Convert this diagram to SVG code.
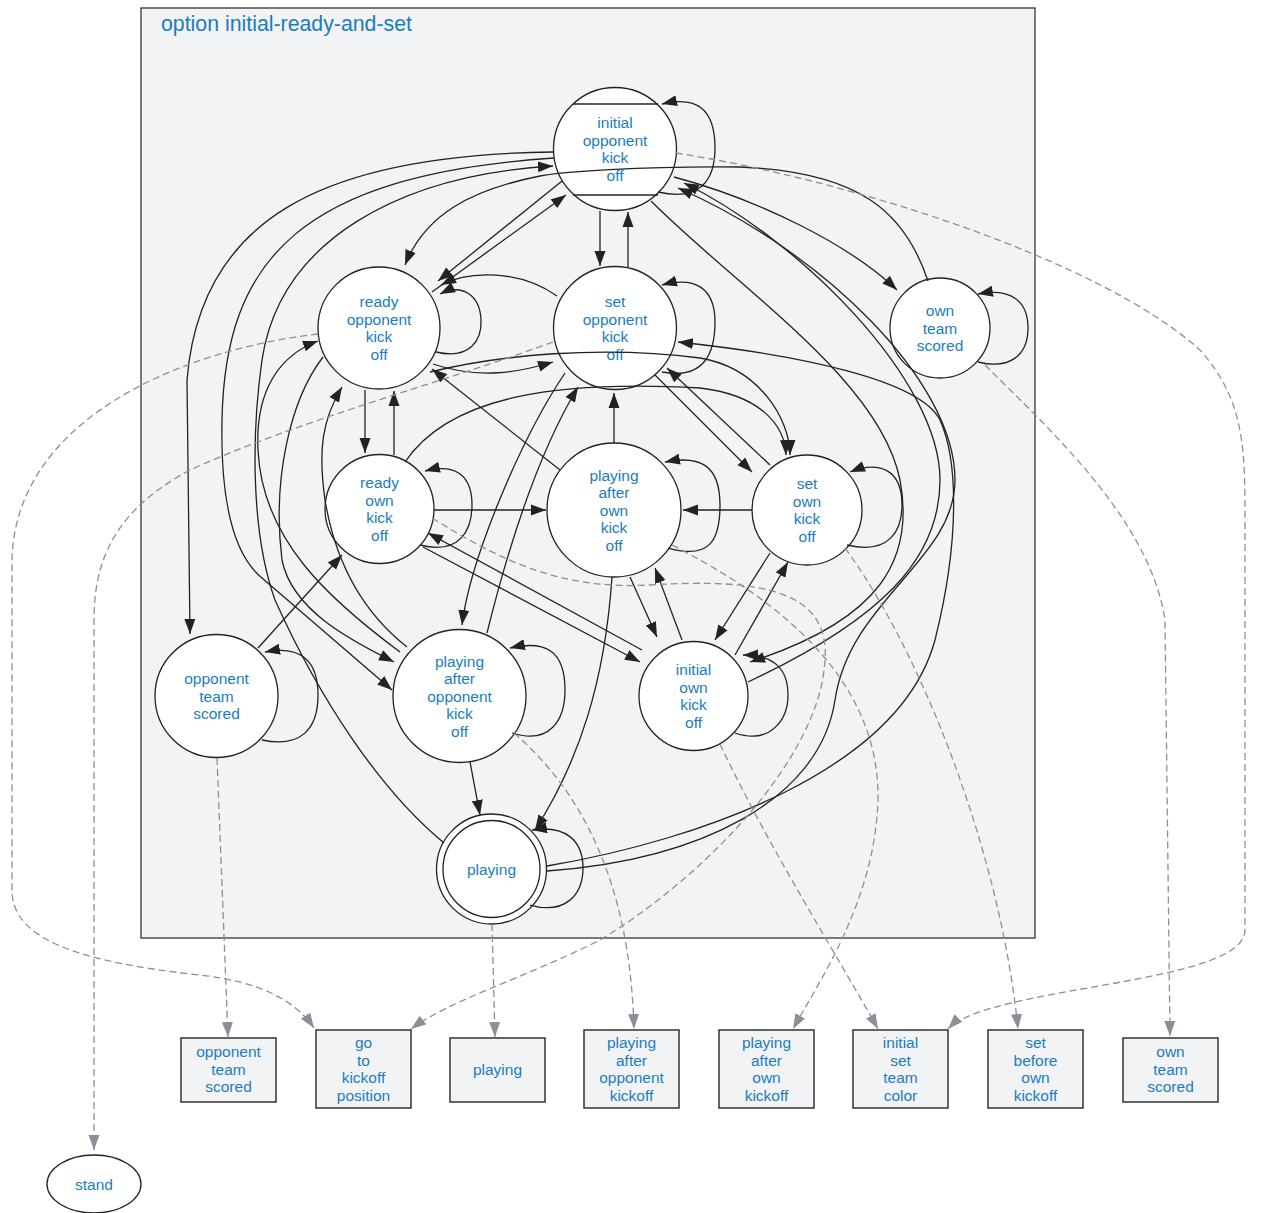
<svg xmlns="http://www.w3.org/2000/svg" width="1261" height="1213" viewBox="0 0 1261 1213">
<style>
  .lbl{font-family:"Liberation Sans",Arial,sans-serif;font-size:15.5px;fill:#1a7dbf;text-anchor:middle}
  .ttl{font-family:"Liberation Sans",Arial,sans-serif;font-size:21.3px;fill:#1a7dbf}
  .st{fill:#fff;stroke:#222;stroke-width:1.3}
  .act{fill:#f2f3f5;stroke:#333;stroke-width:1.5}
  .e{fill:none;stroke:#222;stroke-width:1.3;marker-end:url(#ah)}
  .d{fill:none;stroke:#8a9099;stroke-width:1.3;stroke-dasharray:7,4;marker-end:url(#ahg)}
</style>
<defs>
  <marker id="ah" markerUnits="userSpaceOnUse" markerWidth="16" markerHeight="12" refX="15" refY="6" orient="auto">
    <path d="M0,0.5 L15,6 L0,11.5 z" fill="#222"/>
  </marker>
  <marker id="ahg" markerUnits="userSpaceOnUse" markerWidth="16" markerHeight="12" refX="15" refY="6" orient="auto">
    <path d="M0,0.5 L15,6 L0,11.5 z" fill="#8a9099"/>
  </marker>
</defs>
<rect width="1261" height="1213" fill="#fff"/>

<!-- option cluster -->
<g id="cluster">
  <rect x="141" y="8" width="894" height="930" fill="#f2f3f5" stroke="#333" stroke-width="1.3"/>
  <text class="ttl" x="161" y="31">option initial-ready-and-set</text>
</g>

<!-- states -->
<g id="initial_opponent_kick_off">
  <circle class="st" cx="615" cy="149" r="61.5"/>
  <line x1="573" y1="104" x2="658" y2="104" stroke="#222" stroke-width="1.3"/>
  <line x1="573" y1="195" x2="658" y2="195" stroke="#222" stroke-width="1.3"/>
  <text class="lbl" x="615" y="128">initial</text>
  <text class="lbl" x="615" y="145.5">opponent</text>
  <text class="lbl" x="615" y="163">kick</text>
  <text class="lbl" x="615" y="180.5">off</text>
</g>
<g id="ready_opponent_kick_off">
  <circle class="st" cx="379" cy="328" r="61"/>
  <text class="lbl" x="379" y="307">ready</text>
  <text class="lbl" x="379" y="324.5">opponent</text>
  <text class="lbl" x="379" y="342">kick</text>
  <text class="lbl" x="379" y="359.5">off</text>
</g>
<g id="set_opponent_kick_off">
  <circle class="st" cx="615" cy="328" r="61.5"/>
  <text class="lbl" x="615" y="307">set</text>
  <text class="lbl" x="615" y="324.5">opponent</text>
  <text class="lbl" x="615" y="342">kick</text>
  <text class="lbl" x="615" y="359.5">off</text>
</g>
<g id="own_team_scored">
  <circle class="st" cx="940" cy="328" r="50"/>
  <text class="lbl" x="940" y="316">own</text>
  <text class="lbl" x="940" y="333.5">team</text>
  <text class="lbl" x="940" y="351">scored</text>
</g>
<g id="ready_own_kick_off">
  <circle class="st" cx="379.5" cy="509" r="54.5"/>
  <text class="lbl" x="379.5" y="488">ready</text>
  <text class="lbl" x="379.5" y="505.5">own</text>
  <text class="lbl" x="379.5" y="523">kick</text>
  <text class="lbl" x="379.5" y="540.5">off</text>
</g>
<g id="playing_after_own_kick_off">
  <circle class="st" cx="614" cy="510" r="67"/>
  <text class="lbl" x="614" y="480.5">playing</text>
  <text class="lbl" x="614" y="498">after</text>
  <text class="lbl" x="614" y="515.5">own</text>
  <text class="lbl" x="614" y="533">kick</text>
  <text class="lbl" x="614" y="550.5">off</text>
</g>
<g id="set_own_kick_off">
  <circle class="st" cx="807" cy="510" r="55"/>
  <text class="lbl" x="807" y="489">set</text>
  <text class="lbl" x="807" y="506.5">own</text>
  <text class="lbl" x="807" y="524">kick</text>
  <text class="lbl" x="807" y="541.5">off</text>
</g>
<g id="opponent_team_scored">
  <circle class="st" cx="216.5" cy="696" r="61.5"/>
  <text class="lbl" x="216.5" y="684">opponent</text>
  <text class="lbl" x="216.5" y="701.5">team</text>
  <text class="lbl" x="216.5" y="719">scored</text>
</g>
<g id="playing_after_opponent_kick_off">
  <circle class="st" cx="459.5" cy="696" r="66.5"/>
  <text class="lbl" x="459.5" y="666.5">playing</text>
  <text class="lbl" x="459.5" y="684">after</text>
  <text class="lbl" x="459.5" y="701.5">opponent</text>
  <text class="lbl" x="459.5" y="719">kick</text>
  <text class="lbl" x="459.5" y="736.5">off</text>
</g>
<g id="initial_own_kick_off">
  <circle class="st" cx="693.5" cy="696" r="54.5"/>
  <text class="lbl" x="693.5" y="675">initial</text>
  <text class="lbl" x="693.5" y="692.5">own</text>
  <text class="lbl" x="693.5" y="710">kick</text>
  <text class="lbl" x="693.5" y="727.5">off</text>
</g>
<g id="playing">
  <circle class="st" cx="491.5" cy="869" r="55"/>
  <circle class="st" cx="491.5" cy="869" r="48.5"/>
  <text class="lbl" x="491.5" y="874.5">playing</text>
</g>

<!-- actions -->
<g id="act_opponent_team_scored">
  <rect class="act" x="181" y="1038" width="95" height="64"/>
  <text class="lbl" x="228.5" y="1057">opponent</text>
  <text class="lbl" x="228.5" y="1074.5">team</text>
  <text class="lbl" x="228.5" y="1092">scored</text>
</g>
<g id="act_go_to_kickoff_position">
  <rect class="act" x="316" y="1030" width="95" height="78"/>
  <text class="lbl" x="363.5" y="1048">go</text>
  <text class="lbl" x="363.5" y="1065.5">to</text>
  <text class="lbl" x="363.5" y="1083">kickoff</text>
  <text class="lbl" x="363.5" y="1100.5">position</text>
</g>
<g id="act_playing">
  <rect class="act" x="450" y="1038" width="95" height="64"/>
  <text class="lbl" x="497.5" y="1075">playing</text>
</g>
<g id="act_playing_after_opponent_kickoff">
  <rect class="act" x="584" y="1030" width="95" height="78"/>
  <text class="lbl" x="631.5" y="1048">playing</text>
  <text class="lbl" x="631.5" y="1065.5">after</text>
  <text class="lbl" x="631.5" y="1083">opponent</text>
  <text class="lbl" x="631.5" y="1100.5">kickoff</text>
</g>
<g id="act_playing_after_own_kickoff">
  <rect class="act" x="719" y="1030" width="95" height="78"/>
  <text class="lbl" x="766.5" y="1048">playing</text>
  <text class="lbl" x="766.5" y="1065.5">after</text>
  <text class="lbl" x="766.5" y="1083">own</text>
  <text class="lbl" x="766.5" y="1100.5">kickoff</text>
</g>
<g id="act_initial_set_team_color">
  <rect class="act" x="853" y="1030" width="95" height="78"/>
  <text class="lbl" x="900.5" y="1048">initial</text>
  <text class="lbl" x="900.5" y="1065.5">set</text>
  <text class="lbl" x="900.5" y="1083">team</text>
  <text class="lbl" x="900.5" y="1100.5">color</text>
</g>
<g id="act_set_before_own_kickoff">
  <rect class="act" x="988" y="1030" width="95" height="78"/>
  <text class="lbl" x="1035.5" y="1048">set</text>
  <text class="lbl" x="1035.5" y="1065.5">before</text>
  <text class="lbl" x="1035.5" y="1083">own</text>
  <text class="lbl" x="1035.5" y="1100.5">kickoff</text>
</g>
<g id="act_own_team_scored">
  <rect class="act" x="1123" y="1038" width="95" height="64"/>
  <text class="lbl" x="1170.5" y="1057">own</text>
  <text class="lbl" x="1170.5" y="1074.5">team</text>
  <text class="lbl" x="1170.5" y="1092">scored</text>
</g>
<g id="act_stand">
  <ellipse class="st" cx="94" cy="1184" rx="47" ry="29"/>
  <text class="lbl" x="94" y="1189.5">stand</text>
</g>

<!-- transitions, drawn over the states -->
<g id="edges">
  <!-- initial opponent kick off -->
  <path class="e" d="M658,192 C700,202 715,180 715,148 C715,108 696,96 662,104"/>
  <path class="e" d="M562,181 L438,281"/>
  <path class="e" d="M432,292 L566,195"/>
  <path class="e" d="M600,211 L600,266"/>
  <path class="e" d="M628,267 L628,212"/>
  <path class="e" d="M674,177 C760,200 850,245 897,290"/>
  <path class="e" d="M928,281 C905,212 860,172 740,167 C640,166 560,172 540,176 C470,190 425,215 405,265"/>
  <path class="e" d="M553,152 C320,155 200,220 187,380 L190,634"/>
  <path class="e" d="M554,158 C300,175 225,260 222,420 C220,520 240,560 262,578 L392,690"/>
  <path class="e" d="M444,843 C380,790 320,700 275,600 C250,530 252,430 262,360 C280,240 400,175 553,166"/>
  <path class="e" d="M651,201 C740,290 880,380 900,480 C915,560 880,620 750,662"/>
  <path class="e" d="M748,682 C880,620 940,560 940,480 C940,380 800,240 684,183"/>
  <path class="e" d="M547,871 C700,860 820,800 835,700 C850,600 955,560 955,480 C955,380 820,250 678,188"/>

  <!-- ready opponent kick off -->
  <path class="e" d="M436,352 C470,360 482,340 481,320 C480,295 462,283 440,294"/>
  <path class="e" d="M557,296 C520,270 470,270 441,285"/>
  <path class="e" d="M365,390 L365,453"/>
  <path class="e" d="M394,455 L394,391"/>
  <path class="e" d="M433,364 C480,380 520,372 553,362"/>
  <path class="e" d="M323,357 C290,400 272,480 282,560 C292,610 350,640 394,662"/>
  <path class="e" d="M407,647 C360,610 335,560 325,500 C318,450 322,420 342,387"/>
  <path class="e" d="M560,470 L432,369"/>

  <!-- set opponent kick off -->
  <path class="e" d="M662,372 C705,380 715,352 715,322 C715,288 695,276 662,285"/>
  <path class="e" d="M655,375 L752,472"/>
  <path class="e" d="M770,465 L667,368"/>
  <path class="e" d="M565,373 C520,440 470,560 462,625"/>
  <path class="e" d="M487,633 C510,540 540,450 578,387"/>
  <path class="e" d="M614,443 L614,393"/>
  <path class="e" d="M547,866 C700,840 900,770 935,640 C960,540 958,460 940,420 C920,380 800,355 678,342"/>
  <path class="e" d="M430,372 C500,355 600,345 700,358 C760,368 790,420 790,455"/>
  <path class="e" d="M405,462 C450,395 560,380 700,388 C760,395 785,425 786,455"/>

  <!-- own team scored -->
  <path class="e" d="M978,362 C1010,370 1028,355 1028,328 C1028,300 1010,288 978,294"/>

  <!-- ready own kick off -->
  <path class="e" d="M420,545 C460,555 472,530 472,505 C472,475 455,463 425,471"/>
  <path class="e" d="M434,510 L546,510"/>
  <path class="e" d="M423,547 L640,662"/>
  <path class="e" d="M642,650 L428,533"/>

  <!-- playing after own kick off -->
  <path class="e" d="M668,548 C710,560 720,540 720,505 C720,465 700,455 665,462"/>
  <path class="e" d="M752,510 L683,510"/>
  <path class="e" d="M612,577 C605,680 580,760 535,830"/>
  <path class="e" d="M630,577 L657,637"/>
  <path class="e" d="M682,640 L655,568"/>

  <!-- set own kick off -->
  <path class="e" d="M847,545 C890,555 902,530 902,505 C902,470 880,460 850,472"/>
  <path class="e" d="M770,553 L715,640"/>
  <path class="e" d="M735,655 L788,562"/>

  <!-- initial own kick off -->
  <path class="e" d="M735,733 C770,745 788,720 788,695 C788,665 770,655 743,655"/>

  <!-- opponent team scored -->
  <path class="e" d="M258,648 L342,555"/>
  <path class="e" d="M262,740 C300,748 318,730 318,695 C318,660 300,645 265,652"/>

  <!-- playing after opponent kick off -->
  <path class="e" d="M512,733 C550,745 565,720 565,690 C565,650 545,640 510,648"/>
  <path class="e" d="M470,762 L480,815"/>
  <path class="e" d="M400,652 C330,600 262,540 258,450 C255,390 280,355 318,341"/>

  <!-- playing -->
  <path class="e" d="M530,905 C565,915 583,895 583,868 C583,840 565,825 532,830"/>

  <!-- actions -->
  <path class="d" d="M318,334 C180,350 15,420 12,560 L12,890 C12,940 80,962 200,975 C260,982 295,1000 314,1028"/>
  <path class="d" d="M553,342 C450,380 300,420 190,470 C115,510 94,560 94,620 L94,1150"/>
  <path class="d" d="M676,153 C850,180 1100,260 1200,350 C1245,400 1245,450 1245,520 L1245,930 C1245,985 990,985 948,1029"/>
  <path class="d" d="M985,365 C1050,430 1150,520 1165,620 L1170,1036"/>
  <path class="d" d="M845,548 C920,650 1000,850 1018,1029"/>
  <path class="d" d="M720,744 C770,850 840,960 878,1029"/>
  <path class="d" d="M672,545 C780,600 880,680 878,800 C875,900 820,980 793,1029"/>
  <path class="d" d="M432,518 C500,560 560,590 650,585 C760,578 830,590 825,660 C820,760 700,880 600,940 C520,980 450,1000 411,1029"/>
  <path class="d" d="M514,733 C580,790 630,880 634,1029"/>
  <path class="d" d="M492,924 L495,1037"/>
  <path class="d" d="M217,758 L228,1037"/>
</g>
</svg>
